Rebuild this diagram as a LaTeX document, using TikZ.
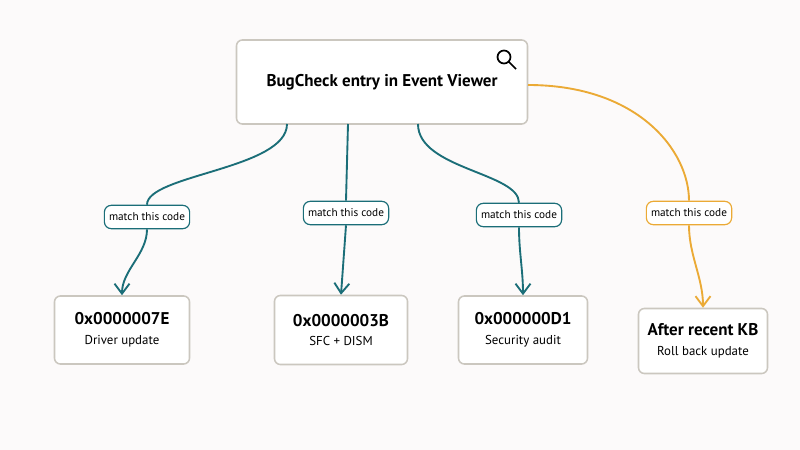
\documentclass[tikz,border=0pt]{standalone}
\usepackage{fontspec}
\setmainfont{PT Sans}
\usetikzlibrary{arrows.meta}
\definecolor{teal2}{HTML}{1B6E78}
\definecolor{amber}{HTML}{EBAA35}
\definecolor{boxgrey}{HTML}{CBC7BF}
\definecolor{paper}{HTML}{FCFAFA}
\tikzset{>={Straight Barb[width=4.5mm,length=3mm,line width=1.6pt]},
  box/.style={draw=boxgrey,line width=1.3pt,rounded corners=5pt,fill=white,align=center},
  tag/.style={draw=#1,line width=1pt,rounded corners=6pt,fill=white,font=\fontsize{9.6}{11}\selectfont,inner sep=4pt,minimum height=20pt},
  link/.style={draw=#1,line width=1.6pt}}
\newcommand{\codetxt}[2]{{\fontsize{14.5}{17}\selectfont\bfseries #1}\\[5pt]{\fontsize{11}{13}\selectfont #2}}

\begin{document}
\begin{tikzpicture}[x=0.03cm,y=-0.03cm]
\fill[paper] (0,0) rectangle (800,450);
\useasboundingbox (0,0) rectangle (800,450);

%Top box
\node [box,minimum width=291*0.03cm,minimum height=84*0.03cm] (top) at (382,82) {\fontsize{14.5}{17}\selectfont\bfseries BugCheck entry in Event Viewer};
\draw [line width=1.5pt] (504,57) circle (6.5) (509,62) -- (516,69);

%Code boxes
\node [box,minimum width=135*0.03cm,minimum height=68*0.03cm] (a) at (122,330) {\codetxt{0x0000007E}{Driver update}};
\node [box,minimum width=133*0.03cm,minimum height=69*0.03cm] (b) at (341,330) {\codetxt{0x0000003B}{SFC + DISM}};
\node [box,minimum width=129*0.03cm,minimum height=68*0.03cm] (c) at (523,330) {\codetxt{0x000000D1}{Security audit}};
\node [box,minimum width=129*0.03cm,minimum height=65*0.03cm] (d) at (703,341) {\codetxt{After recent KB}{Roll back update}};

%Labels
\node [tag=teal2] (la) at (147,217) {match this code};
\node [tag=teal2] (lb) at (346,213) {match this code};
\node [tag=teal2] (lc) at (519,215) {match this code};
\node [tag=amber] (ld) at (689,213) {match this code};

%Connectors
\draw [link=teal2] (287,124) .. controls +(0,45) and +(0,-30) .. (la.north);
\draw [link=teal2,->] (la.south) .. controls +(0,25) and +(0,-25) .. (a.north);
\draw [link=teal2] (348,124) -- (lb.north);
\draw [link=teal2,->] (lb.south) -- (b.north);
\draw [link=teal2] (418,124) .. controls +(0,45) and +(0,-30) .. (lc.north);
\draw [link=teal2,->] (lc.south) .. controls +(0,25) and +(0,-25) .. (c.north);
\draw [link=amber] (528,85) .. controls +(110,0) and +(0,-50) .. (ld.north);
\draw [link=amber,->] (ld.south) .. controls +(0,30) and +(0,-30) .. (d.north);
\end{tikzpicture}
\end{document}
